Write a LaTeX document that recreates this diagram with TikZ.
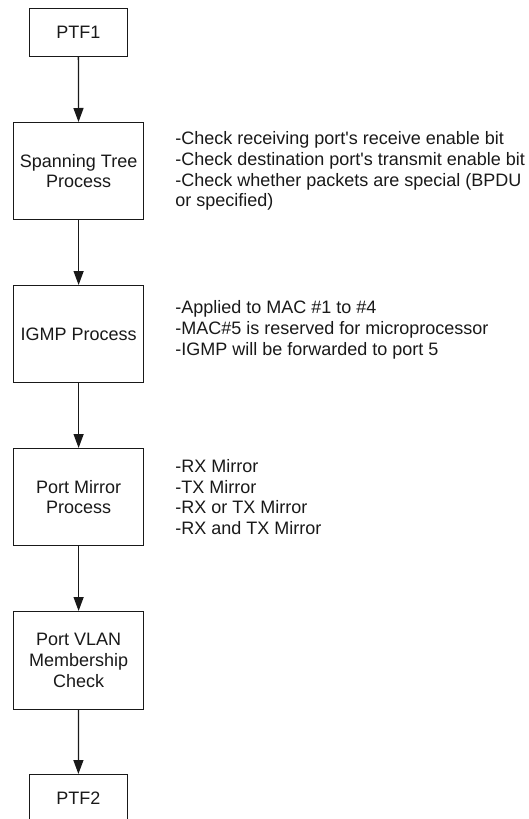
\documentclass[tikz,border=0pt]{standalone}
\usepackage{fontspec}
\newfontfamily\arialfont{Liberation Sans}
\usetikzlibrary{arrows.meta}
\begin{document}
\begin{tikzpicture}[x=1pt,y=-1pt,
  every node/.style={font=\arialfont\fontsize{18pt}{20.8pt}\selectfont, text=black!90},
  procbox/.style={draw=black!90, line width=1.2pt, align=center, inner sep=0pt,
    minimum width=130pt, minimum height=97pt, anchor=north west},
  ptfbox/.style={draw=black!90, line width=1.2pt, align=center, inner sep=0pt,
    minimum width=97.5pt, minimum height=48pt, anchor=north west},
  note/.style={align=left, inner sep=0pt, anchor=west},
  flow/.style={draw=black!90, line width=1.3pt, -{Triangle[length=14pt,width=10pt]}}]
\useasboundingbox (0,0) rectangle (529,819);
\clip (0,0) rectangle (529,819);
\node[ptfbox] (p1) at (29,8) {PTF1};
\node[procbox] (st) at (13,122) {Spanning Tree\\Process};
\node[procbox] (ig) at (13,285) {IGMP Process};
\node[procbox] (pm) at (13,448) {Port Mirror\\Process};
\node[procbox, minimum height=98pt] (vl) at (13,611) {Port VLAN\\Membership\\Check};
\node[ptfbox] (p2) at (29,774) {PTF2};
\draw[flow] (p1) -- (st);
\draw[flow] (st) -- (ig);
\draw[flow] (ig) -- (pm);
\draw[flow] (pm) -- (vl);
\draw[flow] (vl) -- (p2);
\node[note] (nst) at ([xshift=31pt]st.east) {-Check receiving port's receive enable bit\\-Check destination port's transmit enable bit\\-Check whether packets are special (BPDU\\or specified)};
\node[note] (nig) at ([xshift=31pt,yshift=4pt]ig.east) {-Applied to MAC \#1 to \#4\\-MAC\#5 is reserved for microprocessor\\-IGMP will be forwarded to port 5};
\node[note] (npm) at ([xshift=31pt]pm.east) {-RX Mirror\\-TX Mirror\\-RX or TX Mirror\\-RX and TX Mirror};
\end{tikzpicture}
\end{document}
